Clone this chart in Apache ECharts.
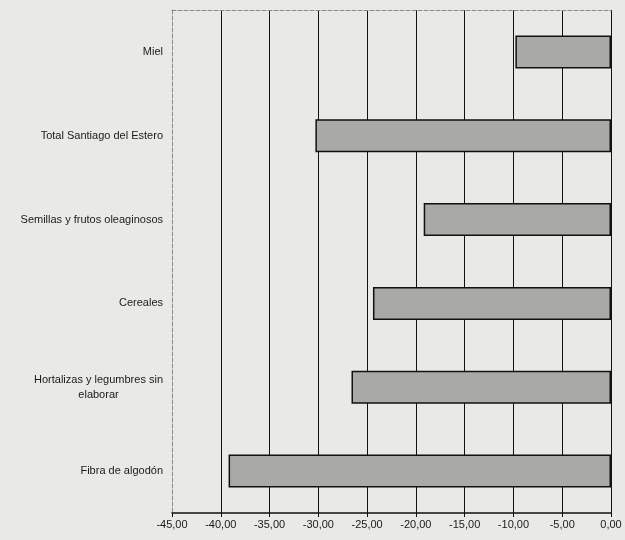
<!DOCTYPE html>
<html>
<head>
<meta charset="utf-8">
<script src="https://cdn.jsdelivr.net/npm/echarts@6/dist/echarts.min.js"></script>
<style>
html,body{margin:0;padding:0;background:#e9e9e6;}
#c{width:625px;height:540px;}
</style>
</head>
<body>
<div id="c"></div>
<script>
var categories = ["Miel", "Total Santiago del Estero", "Semillas y frutos oleaginosos", "Cereales", "Hortalizas y legumbres sin\nelaborar", "Fibra de algodón"];
var values = [-9.8, -30.3, -19.2, -24.4, -26.6, -39.2];
var xMin = -45, xMax = 0, xStep = 5;

var chart = echarts.init(document.getElementById('c'));
chart.setOption({
  backgroundColor: '#e9e9e6',
  animation: false,
  grid: {left: 172, right: 14, top: 10, bottom: 27},
  xAxis: [{
    type: 'value', min: xMin, max: xMax, interval: xStep, position: 'bottom',
    axisLine: {show: true, onZero: false, lineStyle: {color: '#111', width: 1.5}},
    axisTick: {show: true, length: 4, lineStyle: {color: '#111', width: 1}},
    axisLabel: {
      color: '#1a1a1a', fontFamily: 'Liberation Sans, Arial, sans-serif', fontSize: 11, margin: 6,
      formatter: function (v) { return v.toFixed(2).replace('.', ','); }
    },
    splitLine: {show: true, showMinLine: false, showMaxLine: true, lineStyle: {color: '#111', width: 1}}
  }, {
    type: 'value', min: xMin, max: xMax, interval: xStep, position: 'top',
    axisLine: {show: true, onZero: false, lineStyle: {color: '#888', width: 1, type: 'dashed'}},
    axisTick: {show: false}, axisLabel: {show: false}, splitLine: {show: false}
  }],
  yAxis: {
    type: 'category', data: categories, inverse: true,
    axisLine: {show: true, onZero: false, lineStyle: {color: '#888', width: 1, type: 'dashed'}},
    axisTick: {show: false},
    axisLabel: {
      margin: 9, color: '#1a1a1a', fontFamily: 'Liberation Sans, Arial, sans-serif', fontSize: 11,
      formatter: function (v) {
        return v.split('\n').map(function (s) { return '{c|' + s + '}'; }).join('\n');
      },
      rich: {c: {align: 'center', fontSize: 11, lineHeight: 15, color: '#1a1a1a', fontFamily: 'Liberation Sans, Arial, sans-serif'}}
    }
  },
  series: [{
    type: 'bar', data: values, barWidth: 33, xAxisIndex: 0,
    itemStyle: {color: '#a9a9a7', borderColor: '#111', borderWidth: 1.5}
  }]
});
</script>
</body>
</html>
